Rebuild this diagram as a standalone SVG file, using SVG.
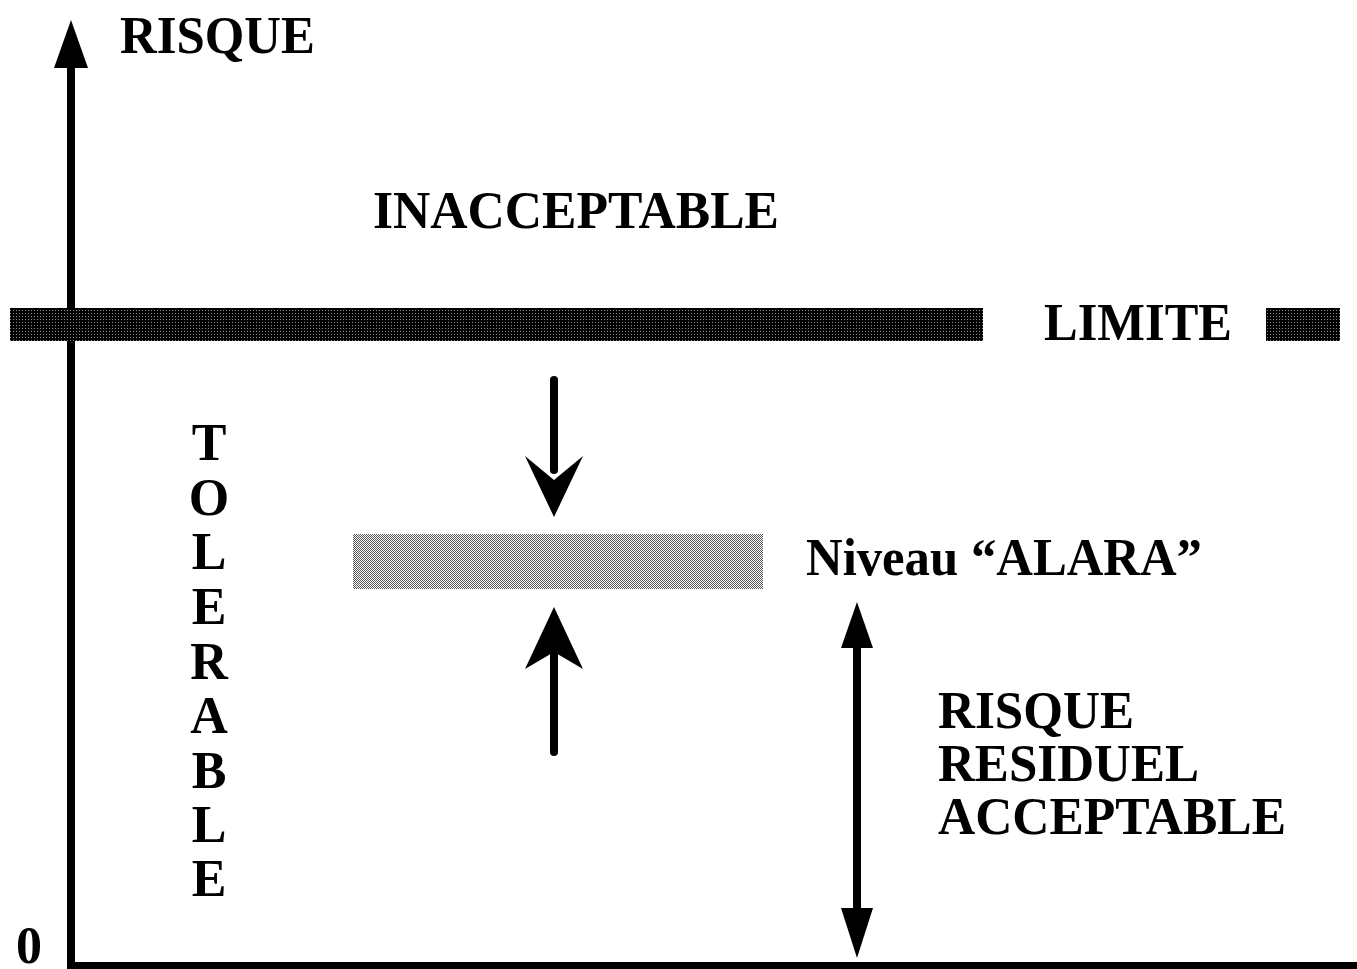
<svg xmlns="http://www.w3.org/2000/svg" width="1357" height="969" viewBox="0 0 1357 969">
<style>
.t{font-family:"Liberation Serif","Times New Roman",serif;font-weight:bold;font-size:52px;fill:#000}
.ax{stroke:#000;fill:none}
.ar{fill:#000;stroke:none}
</style>
<defs>
<pattern id="dark" width="3" height="3" patternUnits="userSpaceOnUse">
<rect width="3" height="3" fill="#000"/>
<rect x="1" y="1" width="1" height="1" fill="#8a8a8a"/>
</pattern>
<pattern id="light" width="2" height="2" patternUnits="userSpaceOnUse">
<rect width="2" height="2" fill="#fff"/>
<rect width="1" height="1" fill="#555"/>
<rect x="1" y="1" width="1" height="1" fill="#555"/>
</pattern>
</defs>
<rect width="1357" height="969" fill="#fff"/>
<g id="axes">
<rect x="67" y="62" width="8" height="906" fill="#000"/>
<rect x="67" y="962" width="1290" height="7" fill="#000"/>
<polygon class="ar" points="71,20 88,68 54,68"/>
</g>
<g id="limite">
<rect x="10" y="308" width="973" height="33" fill="url(#dark)"/>
<rect x="1266" y="308" width="74" height="33" fill="url(#dark)"/>
<text class="t" x="1044" y="340" textLength="188" lengthAdjust="spacingAndGlyphs">LIMITE</text>
</g>
<g id="alara">
<rect x="353" y="534" width="410" height="55" fill="url(#light)"/>
<text class="t" x="806" y="575" textLength="396" lengthAdjust="spacingAndGlyphs">Niveau “ALARA”</text>
</g>
<g id="connectors">
<line class="ax" x1="554" y1="380" x2="554" y2="470" stroke-width="8" stroke-linecap="round"/>
<polygon class="ar" points="525,456 554,480 583,456 554,517"/>
<line class="ax" x1="554" y1="620" x2="554" y2="752" stroke-width="8" stroke-linecap="round"/>
<polygon class="ar" points="554,607 583,669 554,652 525,669"/>
<rect x="853" y="640" width="8" height="275" fill="#000"/>
<polygon class="ar" points="857,602 873,648 841,648"/>
<polygon class="ar" points="857,958 873,908 841,908"/>
</g>
<g id="labels">
<text class="t" x="120" y="53" textLength="195" lengthAdjust="spacingAndGlyphs">RISQUE</text>
<text class="t" x="373" y="228" textLength="406" lengthAdjust="spacingAndGlyphs">INACCEPTABLE</text>
<text class="t" x="29" y="963" text-anchor="middle">0</text>
<text class="t" x="938" y="728" textLength="196" lengthAdjust="spacingAndGlyphs">RISQUE</text>
<text class="t" x="938" y="781" textLength="261" lengthAdjust="spacingAndGlyphs">RESIDUEL</text>
<text class="t" x="938" y="834" textLength="348" lengthAdjust="spacingAndGlyphs">ACCEPTABLE</text>
</g>
<g id="tolerable">
<text class="t" x="209" y="460" text-anchor="middle">T</text>
<text class="t" x="209" y="515" text-anchor="middle">O</text>
<text class="t" x="209" y="569" text-anchor="middle">L</text>
<text class="t" x="209" y="624" text-anchor="middle">E</text>
<text class="t" x="209" y="679" text-anchor="middle">R</text>
<text class="t" x="209" y="733" text-anchor="middle">A</text>
<text class="t" x="209" y="788" text-anchor="middle">B</text>
<text class="t" x="209" y="842" text-anchor="middle">L</text>
<text class="t" x="209" y="896" text-anchor="middle">E</text>
</g>
</svg>
